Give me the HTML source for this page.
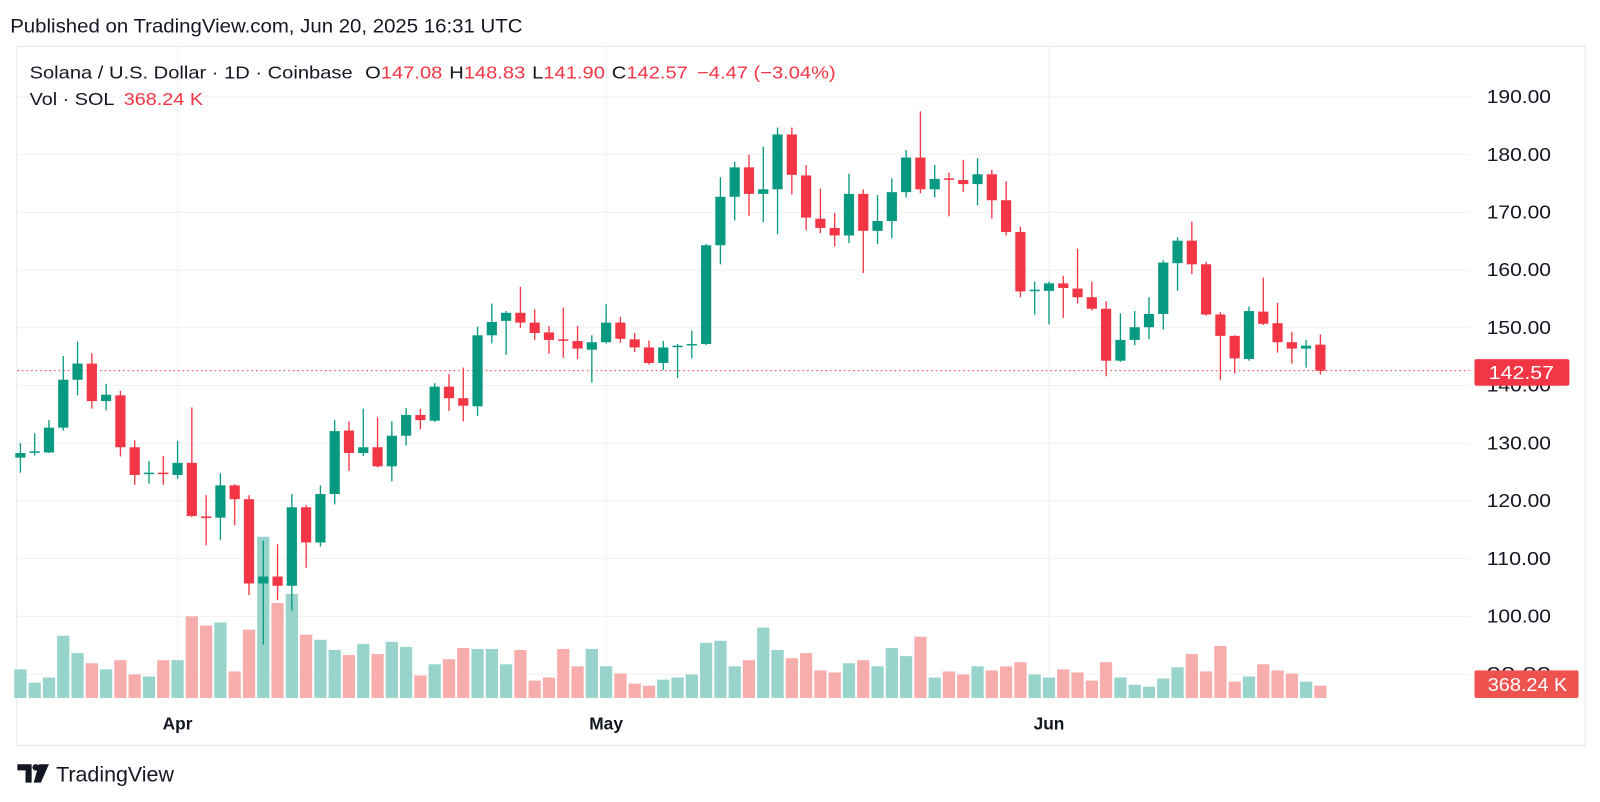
<!DOCTYPE html>
<html><head><meta charset="utf-8"><style>
html,body{margin:0;padding:0;background:#fff;width:1600px;height:802px;overflow:hidden;font-family:"Liberation Sans",sans-serif;}
</style></head><body>
<svg width="1600" height="802" xmlns="http://www.w3.org/2000/svg" style="position:absolute;left:0;top:0;font-family:'Liberation Sans',sans-serif"><g id="s" transform="scale(1.0204)"></g></svg>
<script>
const D=[
[127.5,130,124.9,128.3,28],[128.4,131.7,127.9,128.6,15],[128.4,134,128.3,132.7,20],[132.7,145.1,132.2,141,61],[141,147.6,138.3,143.8,44],
[143.8,145.6,136,137.3,34],[137.3,140.3,135.7,138.4,28],[138.3,139.1,127.7,129.3,37],[129.3,130.5,122.8,124.5,23],[124.8,126.9,123,124.9,21],
[124.9,127.8,122.8,124.8,37],[124.5,130.4,123.8,126.6,37],[126.6,136.2,117.2,117.4,80],[117.3,121,112.3,117.2,71],[117.1,124.8,113.2,122.7,74],
[122.7,122.9,115.8,120.3,26],[120.3,121,103.7,105.7,67],[105.7,113.1,95.1,106.9,158],[106.9,112.5,102.8,105.3,93],[105.3,121.2,101,118.9,102],
[118.9,119.3,108.4,112.8,62],[112.8,122.7,112.1,121.2,57],[121.2,134,119.4,132.1,47],[132.2,133.8,125.2,128.3,42],[128.3,136,127.8,129.3,53],
[129.3,134.5,125.8,126,43],[126,133.8,123.4,131.3,55],[131.3,136.1,129.6,134.9,50],[134.9,136,132.4,134,22],[133.9,140.4,133.7,139.8,33],
[139.8,142,135.6,137.8,38],[137.8,143.1,133.8,136.5,49],[136.4,150.2,134.7,148.7,48],[148.7,154.2,147.3,151,48],[151.2,152.9,145.3,152.6,33],
[152.6,157.1,150,150.9,47],[150.9,153.2,147.9,149.1,17],[149.2,150.3,145.5,147.9,20],[148,153.5,144.8,147.9,48],[147.7,150.3,144.6,146.4,31],
[146.2,148.7,140.5,147.5,48],[147.5,154.1,147.3,150.9,31],[150.9,151.9,147.4,148.1,24],[148,149.1,145.8,146.6,14],[146.6,147.8,143.6,143.9,12],
[143.9,147.7,142.7,146.6,18],[146.8,147.2,141.3,146.9,20],[147.0,149.5,144.7,147.2,23],[147.2,164.5,147.0,164.3,54],[164.3,176.1,161,172.7,56],
[172.7,178.8,168.6,177.8,31],[177.8,180,169.4,173.2,37],[173.2,181.4,168.3,174,69],[174,184.7,166.2,183.5,47],[183.5,184.7,173.1,176.5,39],
[176.4,178.2,166.9,169.1,44],[168.9,174.1,166.4,167.3,27],[167.3,169.9,164.1,166,25],[166,176.7,164.7,173.2,34],[173.2,174,159.5,166.8,37],
[166.8,173,164.5,168.5,31],[168.5,175.9,165.5,173.5,49],[173.5,180.8,172.6,179.5,41],[179.5,187.5,173.3,174,60],[174,178.2,172.6,175.8,20],
[175.9,176.9,169.3,175.8,26],[175.6,179.1,173.5,174.9,23],[174.9,179.4,171.2,176.6,31],[176.6,177.4,168.9,172.1,27],[172.1,175.4,166,166.6,31],
[166.6,167.5,155.3,156.3,35],[156.5,158,152.3,156.6,23],[156.4,158,150.6,157.7,20],[157.7,159,151.7,156.9,28],[156.8,163.7,154.2,155.3,25],
[155.3,158,153,153.3,17],[153.3,154.6,141.6,144.3,35],[144.3,152.5,144.1,147.9,20],[147.9,152.9,147,150.1,13],[150.1,155.3,148,152.4,11],
[152.4,161.7,149.7,161.3,19],[161.2,165.7,156.4,165.1,30],[165.1,168.4,159.3,161,43],[161,161.4,152.1,152.3,26],[152.3,152.7,141,148.6,51],
[148.6,148.7,142.1,144.7,16],[144.6,153.7,144.3,152.9,21],[152.8,158.7,150.5,150.7,33],[150.8,154.3,145.7,147.5,27],[147.5,149.3,143.8,146.4,24],
[146.4,147.9,143.1,146.9,16],[147.08,148.83,141.9,142.57,12]];
const Y=p=>95+(190-p)*5.656;
let h='';
const G='#089981',R='#F23645';
h+='<rect x="16.5" y="45.5" width="1537" height="685" fill="none" stroke="#e6e7ea"/>';
for(let p=190;p>=90;p-=10){const y=Y(p);h+=`<line x1="17" y1="${y}" x2="1440" y2="${y}" stroke="#f0f1f3"/>`;}
for(const x of [174,594,1028])h+=`<line x1="${x}" y1="46" x2="${x}" y2="692" stroke="#f0f1f3"/>`;
D.forEach((d,i)=>{const x=20+14*i,up=d[3]>=d[0];h+=`<rect x="${x-6}" y="${684-d[4]}" width="12" height="${d[4]}" fill="${up?'#92d2c8':'#f7a9a7'}" fill-opacity="0.95"/>`;});
h+=`<line x1="17" y1="${Y(142.57)}" x2="1440" y2="${Y(142.57)}" stroke="${R}" stroke-width="1" stroke-dasharray="1.5,3"/>`;
D.forEach((d,i)=>{const x=20+14*i,up=d[3]>=d[0],c=up?G:R;
const t=Y(Math.max(d[0],d[3])),b=Y(Math.min(d[0],d[3]));
h+=`<line x1="${x}" y1="${Y(d[1])}" x2="${x}" y2="${Y(d[2])}" stroke="${c}" stroke-width="1.3"/>`;
h+=`<rect x="${x-5}" y="${t}" width="10" height="${Math.max(1.5,b-t)}" fill="${c}"/>`;});
for(let p=190;p>=90;p-=10){h+=`<text x="1457" y="${Y(p)+6}" font-size="18" fill="#131722" textLength="63" lengthAdjust="spacingAndGlyphs">${p.toFixed(2)}</text>`;}
h+=`<rect x="1445" y="352" width="93" height="26" rx="2" fill="${R}"/><text x="1459" y="371.5" font-size="18" fill="#fff" textLength="64" lengthAdjust="spacingAndGlyphs">142.57</text>`;
h+=`<rect x="1445" y="657" width="102" height="27" rx="2" fill="#EF5350"/><text x="1458" y="677" font-size="18" fill="#fff" textLength="78" lengthAdjust="spacingAndGlyphs">368.24 K</text>`;
for(const [x,t] of [[174,'Apr'],[594,'May'],[1028,'Jun']])h+=`<text x="${x}" y="715" font-size="17" font-weight="bold" fill="#131722" text-anchor="middle">${t}</text>`;
h+=`<text x="10" y="32" font-size="19" fill="#131722" textLength="502" lengthAdjust="spacingAndGlyphs">Published on TradingView.com, Jun 20, 2025 16:31 UTC</text>`;
h+=`<text x="29" y="77" font-size="17.5" fill="#131722" textLength="790" lengthAdjust="spacingAndGlyphs">Solana / U.S. Dollar · 1D · Coinbase <tspan dx="6">O</tspan><tspan fill="${R}">147.08</tspan><tspan dx="6">H</tspan><tspan fill="${R}">148.83</tspan><tspan dx="6">L</tspan><tspan fill="${R}">141.90</tspan><tspan dx="6">C</tspan><tspan fill="${R}">142.57</tspan><tspan dx="8" fill="${R}">−4.47 (−3.04%)</tspan></text>`;
h+=`<text x="29" y="103" font-size="17.5" fill="#131722" textLength="170" lengthAdjust="spacingAndGlyphs">Vol · SOL <tspan dx="4" fill="${R}">368.24 K</tspan></text>`;
h+=`<path d="M17 749h14v18h-6v-12h-8z" fill="#131722"/><circle cx="35" cy="752" r="3.2" fill="#131722"/><path d="M38 749h10l-8 18h-7z" fill="#131722"/>`;
h+=`<text x="55" y="766" font-size="21" fill="#131722">TradingView</text>`;
document.getElementById('s').innerHTML=h;
</script>
</body></html>
